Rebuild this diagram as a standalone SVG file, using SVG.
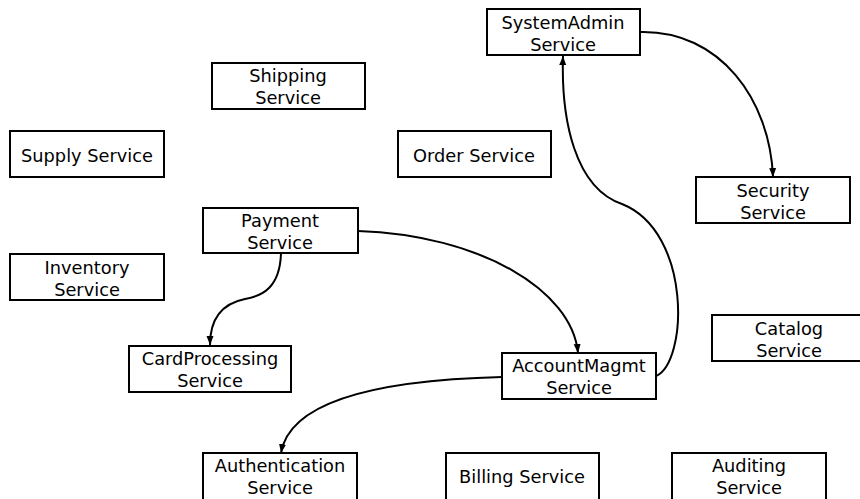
<svg xmlns="http://www.w3.org/2000/svg" width="860" height="499" viewBox="0 0 860 499">
<defs>
<marker id="ah" markerWidth="10" markerHeight="10" refX="9" refY="5" orient="auto" markerUnits="userSpaceOnUse">
<path d="M0,1.5 L9,5 L0,8.5 Z" fill="#000"/>
</marker>
<style>
.box{fill:#fff;stroke:#000;stroke-width:2}
.t{font-family:"DejaVu Sans",Verdana,sans-serif;font-size:17.8px;fill:#000;text-anchor:middle}
.c{fill:none;stroke:#000;stroke-width:2;marker-end:url(#ah)}
</style>
</defs>
<rect width="860" height="499" fill="#fff"/>
<g id="connectors">
<path class="c" d="M640,32 C720,30 770,100 773,177"/>
<path class="c" d="M656,376 C688,362 692,232 622,204 C575,188 561,120 563,56"/>
<path class="c" d="M358,231 C480,235 572,290 578,353"/>
<path class="c" d="M281,253 C280,288 262,296 245,299 C220,304 210,320 210,345"/>
<path class="c" d="M502,377 C380,380 290,400 281,453"/>
</g>
<g id="systemadmin"><rect class="box" x="487" y="9" width="153" height="46"/><text class="t" x="563" y="29">SystemAdmin</text><text class="t" x="563" y="51">Service</text></g>
<g id="shipping"><rect class="box" x="212" y="63" width="153" height="46"/><text class="t" x="288" y="82">Shipping</text><text class="t" x="288" y="104">Service</text></g>
<g id="supply"><rect class="box" x="10" y="131" width="154" height="46"/><text class="t" x="87" y="162">Supply Service</text></g>
<g id="order"><rect class="box" x="398" y="131" width="153" height="46"/><text class="t" x="474" y="162">Order Service</text></g>
<g id="security"><rect class="box" x="696" y="177" width="154" height="46"/><text class="t" x="773" y="197">Security</text><text class="t" x="773" y="219">Service</text></g>
<g id="payment"><rect class="box" x="203" y="208" width="155" height="45"/><text class="t" x="280" y="227">Payment</text><text class="t" x="280" y="249">Service</text></g>
<g id="inventory"><rect class="box" x="10" y="254" width="154" height="46"/><text class="t" x="87" y="274">Inventory</text><text class="t" x="87" y="296">Service</text></g>
<g id="catalog"><rect class="box" x="712" y="315" width="154" height="46"/><text class="t" x="789" y="335">Catalog</text><text class="t" x="789" y="357">Service</text></g>
<g id="cardprocessing"><rect class="box" x="129" y="346" width="162" height="46"/><text class="t" x="210" y="365">CardProcessing</text><text class="t" x="210" y="387">Service</text></g>
<g id="accountmagmt"><rect class="box" x="502" y="353" width="154" height="46"/><text class="t" x="579" y="372">AccountMagmt</text><text class="t" x="579" y="394">Service</text></g>
<g id="authentication"><rect class="box" x="203" y="453" width="154" height="50"/><text class="t" x="280" y="472">Authentication</text><text class="t" x="280" y="494">Service</text></g>
<g id="billing"><rect class="box" x="446" y="453" width="153" height="50"/><text class="t" x="522" y="483">Billing Service</text></g>
<g id="auditing"><rect class="box" x="672" y="453" width="154" height="50"/><text class="t" x="749" y="472">Auditing</text><text class="t" x="749" y="494">Service</text></g>
</svg>
